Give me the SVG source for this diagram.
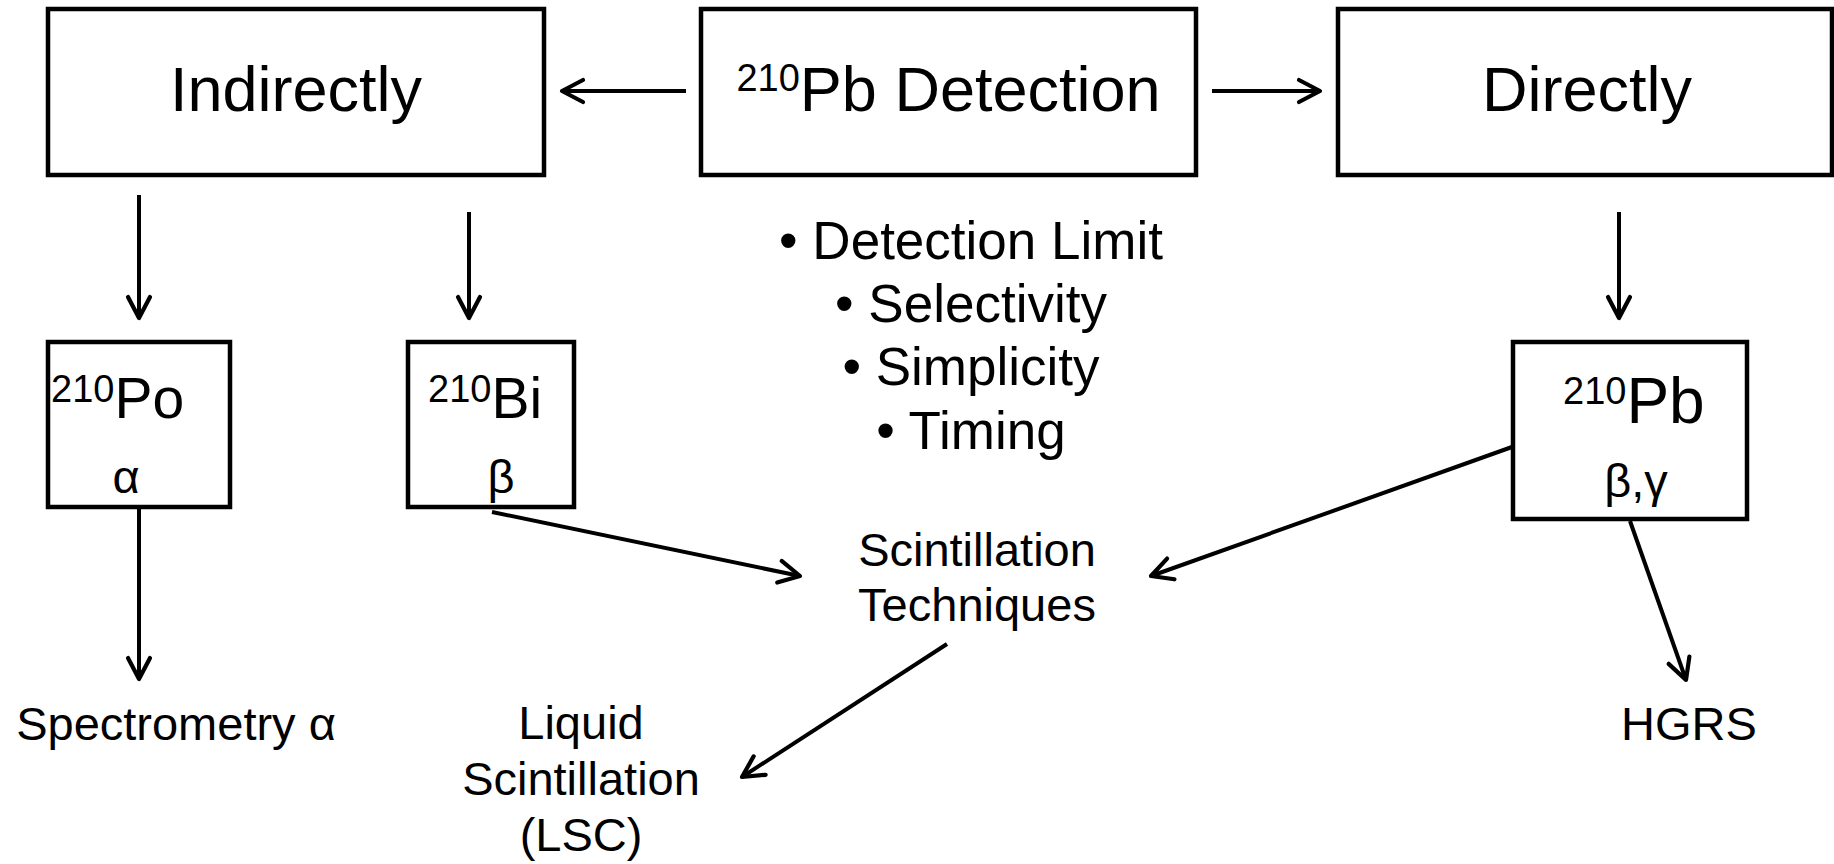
<svg xmlns="http://www.w3.org/2000/svg" width="1834" height="864" viewBox="0 0 1834 864">
<style>
  text { font-family: "Liberation Sans", Arial, sans-serif; fill: #000; }
  .box { fill: #fff; stroke: #000; stroke-width: 4.5; stroke-linejoin: miter; }
  .big { font-size: 63px; }
  .sup { font-size: 38px; }
  .bul { font-size: 53px; }
  .lbl { font-size: 47px; }
  .conn path { fill: none; stroke: #000; stroke-width: 4; marker-end: url(#ah); }
</style>
<defs>
  <marker id="ah" markerUnits="userSpaceOnUse" markerWidth="30" markerHeight="30" viewBox="-26 -15 30 30" refX="0" refY="0" orient="auto" overflow="visible">
    <path d="M -21,-11 L 0,0 L -21,11" fill="none" stroke="#000" stroke-width="4.2" stroke-linecap="round" stroke-linejoin="round"/>
  </marker>
</defs>
<rect width="1834" height="864" fill="#fff"/>

<g id="indirectly">
  <rect class="box" x="48" y="9" width="496" height="166"/>
  <text class="big" x="296" y="111" text-anchor="middle">Indirectly</text>
</g>
<g id="detection">
  <rect class="box" x="701" y="9" width="495" height="166"/>
  <text class="big" x="948.5" y="111" text-anchor="middle"><tspan class="sup" dy="-20">210</tspan><tspan dy="20">Pb Detection</tspan></text>
</g>
<g id="directly">
  <rect class="box" x="1338" y="9" width="494" height="166"/>
  <text class="big" x="1587" y="111" text-anchor="middle">Directly</text>
</g>
<g id="criteria">
  <text class="bul" x="971" y="259" text-anchor="middle">• Detection Limit</text>
  <text class="bul" x="971" y="322" text-anchor="middle">• Selectivity</text>
  <text class="bul" x="971" y="385" text-anchor="middle">• Simplicity</text>
  <text class="bul" x="971" y="449" text-anchor="middle">• Timing</text>
</g>
<g id="po210">
  <rect class="box" x="48" y="342" width="182" height="165"/>
  <text x="51" y="418" style="font-size:57px"><tspan class="sup" dy="-16">210</tspan><tspan dy="16">Po</tspan></text>
  <text class="lbl" x="126" y="493" text-anchor="middle">α</text>
</g>
<g id="bi210">
  <rect class="box" x="408" y="342" width="166" height="165"/>
  <text x="428" y="418" style="font-size:57px"><tspan class="sup" dy="-16">210</tspan><tspan dy="16">Bi</tspan></text>
  <text class="lbl" x="501" y="493" text-anchor="middle">β</text>
</g>
<g id="pb210">
  <rect class="box" x="1513" y="342" width="234" height="177"/>
  <text x="1563" y="423" style="font-size:64px"><tspan class="sup" dy="-19">210</tspan><tspan dy="19">Pb</tspan></text>
  <text class="lbl" x="1636" y="497" text-anchor="middle">β,γ</text>
</g>
<g id="scintillation">
  <text class="lbl" x="977" y="566" text-anchor="middle">Scintillation</text>
  <text class="lbl" x="977" y="621" text-anchor="middle">Techniques</text>
</g>
<g id="spectrometry">
  <text class="lbl" x="176" y="740" text-anchor="middle">Spectrometry α</text>
</g>
<g id="lsc">
  <text class="lbl" x="581" y="739" text-anchor="middle">Liquid</text>
  <text class="lbl" x="581" y="795" text-anchor="middle">Scintillation</text>
  <text class="lbl" x="581" y="851" text-anchor="middle">(LSC)</text>
</g>
<g id="hgrs">
  <text class="lbl" x="1689" y="740" text-anchor="middle">HGRS</text>
</g>

<g id="connectors" class="conn">
  <path d="M686,91 L562,91"/>
  <path d="M1212,91 L1320,91"/>
  <path d="M139,195 L139,318"/>
  <path d="M469,212 L469,318"/>
  <path d="M1619,212 L1619,318"/>
  <path d="M139,507 L139,679"/>
  <path d="M492,512 L800,576"/>
  <path d="M1512,447 L1151,576"/>
  <path d="M1630,521 L1686,680"/>
  <path d="M947,644 L742,777"/>
</g>
</svg>
